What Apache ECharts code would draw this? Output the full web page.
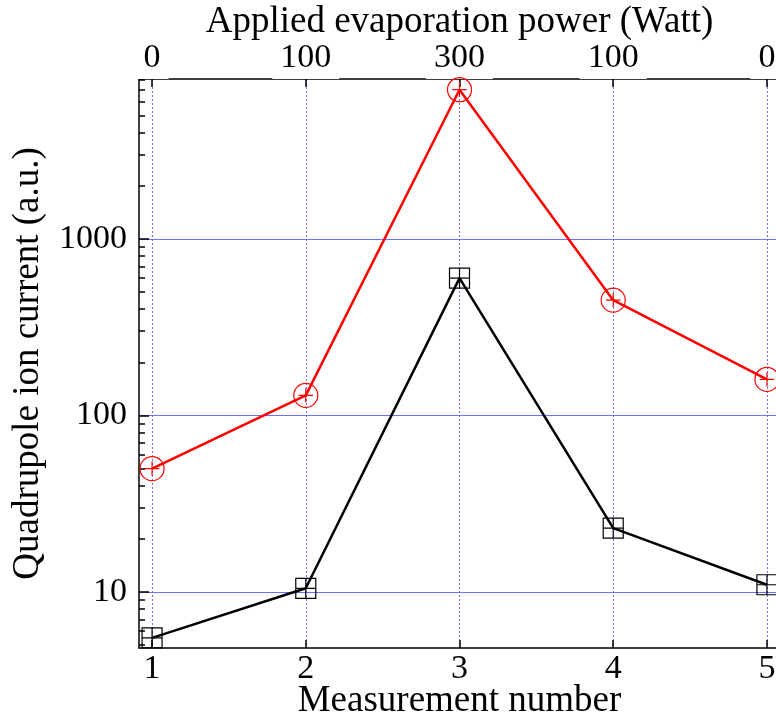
<!DOCTYPE html>
<html>
<head>
<meta charset="utf-8">
<script src="https://cdn.jsdelivr.net/npm/echarts@6/dist/echarts.min.js"></script>
<style>
html,body{margin:0;padding:0;background:#fff;}
#chart{width:776px;height:724px;}
</style>
</head>
<body>
<div id="chart"></div>
<script>
// ---- data ----
const measurements = [1, 2, 3, 4, 5];
const powerLabels = ['0', '100', '300', '100', '0'];
const redSeries = [50, 130, 7000, 450, 160];
const blackSeries = [5.5, 10.5, 600, 23, 11];
const yMajorTicks = [10, 100, 1000];
const yMinorTicks = [5, 6, 7, 8, 9, 20, 30, 40, 50, 60, 70, 80, 90, 200, 300, 400, 500, 600, 700, 800, 900, 2000, 3000, 4000, 5000, 6000, 7000, 8000];

const FONT = 'Liberation Serif';
const xMin = 0.915, xMax = 5.085;
const yMin = 4.82, yMax = 8050;

const circlePlus = 'path://M0,10 A10,10 0 1,1 20,10 A10,10 0 1,1 0,10 Z M10,4 L10,16 M4,10 L16,10';
const squarePlus = 'path://M0,0 L20,0 L20,20 L0,20 Z M10,0 L10,20 M0,10 L20,10';

const chart = echarts.init(document.getElementById('chart'), null, {renderer: 'canvas'});
const option = {
  backgroundColor: '#fff',
  animation: false,
  grid: {left: 139, top: 79, height: 569, width: 641, containLabel: false, outerBoundsMode: 'none'},
  xAxis: [
    {
      type: 'value', position: 'bottom', min: xMin, max: xMax,
      name: 'Measurement number', nameLocation: 'middle', nameGap: 35, nameMoveOverlap: false,
      nameTextStyle: {fontFamily: FONT, fontSize: 37, color: '#000'},
      axisLine: {show: true, onZero: false, lineStyle: {color: '#000', width: 1.5}},
      axisTick: {show: true, inside: true, length: 8, customValues: measurements, lineStyle: {color: '#000', width: 1.5}},
      axisLabel: {show: true, customValues: measurements, margin: 4, fontFamily: FONT, fontSize: 34, color: '#000'},
      splitLine: {show: true, lineStyle: {color: '#6f6fff', type: [2, 2], width: 1}}
    },
    {
      type: 'value', position: 'top', min: xMin, max: xMax,
      name: 'Applied evaporation power (Watt)', nameLocation: 'middle', nameGap: 38, nameMoveOverlap: false,
      nameTextStyle: {fontFamily: FONT, fontSize: 37, color: '#000'},
      axisLine: {show: true, onZero: false, lineStyle: {color: '#000', width: 1.5}},
      axisTick: {show: true, inside: true, length: 8, customValues: measurements, lineStyle: {color: '#000', width: 1.5}},
      axisLabel: {
        show: true, customValues: measurements, margin: 0,
        fontFamily: FONT, fontSize: 34, color: '#000',
        backgroundColor: '#fff', padding: [0, 8, 4, 8],
        formatter: function (v) { return powerLabels[measurements.indexOf(Math.round(v))]; }
      },
      splitLine: {show: false}
    }
  ],
  yAxis: [
    {
      type: 'log', logBase: 10, min: yMin, max: yMax, position: 'left',
      name: 'Quadrupole ion current (a.u.)', nameLocation: 'middle', nameGap: 92, nameMoveOverlap: false,
      nameTextStyle: {fontFamily: FONT, fontSize: 37, color: '#000'},
      axisLine: {show: true, onZero: false, lineStyle: {color: '#000', width: 1.5}},
      axisTick: {show: true, inside: true, length: 10, customValues: yMajorTicks, lineStyle: {color: '#000', width: 1.5}},
      axisLabel: {show: true, customValues: yMajorTicks, margin: 12, fontFamily: FONT, fontSize: 34, color: '#000',
        formatter: function (v) { return String(Math.round(v)); }},
      splitLine: {show: true, lineStyle: {color: '#6f6fff', width: 1}}
    },
    {
      type: 'log', logBase: 10, min: yMin, max: yMax, position: 'left', offset: 0,
      axisLine: {show: false},
      axisTick: {show: true, inside: true, length: 6, customValues: yMinorTicks, lineStyle: {color: '#000', width: 1.5}},
      axisLabel: {show: false},
      splitLine: {show: false}
    }
  ],
  series: [
    {
      type: 'line', xAxisIndex: 0, yAxisIndex: 0,
      data: measurements.map((m, i) => [m, redSeries[i]]),
      symbol: circlePlus, symbolSize: 24,
      lineStyle: {color: '#ff0000', width: 2.5},
      itemStyle: {color: 'rgba(0,0,0,0)', borderColor: '#ff0000', borderWidth: 1.2},
      clip: false, z: 3
    },
    {
      type: 'line', xAxisIndex: 0, yAxisIndex: 0,
      data: measurements.map((m, i) => [m, blackSeries[i]]),
      symbol: squarePlus, symbolSize: 20,
      lineStyle: {color: '#000000', width: 2.5},
      itemStyle: {color: 'rgba(0,0,0,0)', borderColor: '#000000', borderWidth: 1.2},
      clip: false, z: 3
    }
  ]
};
chart.setOption(option);
</script>
</body>
</html>
